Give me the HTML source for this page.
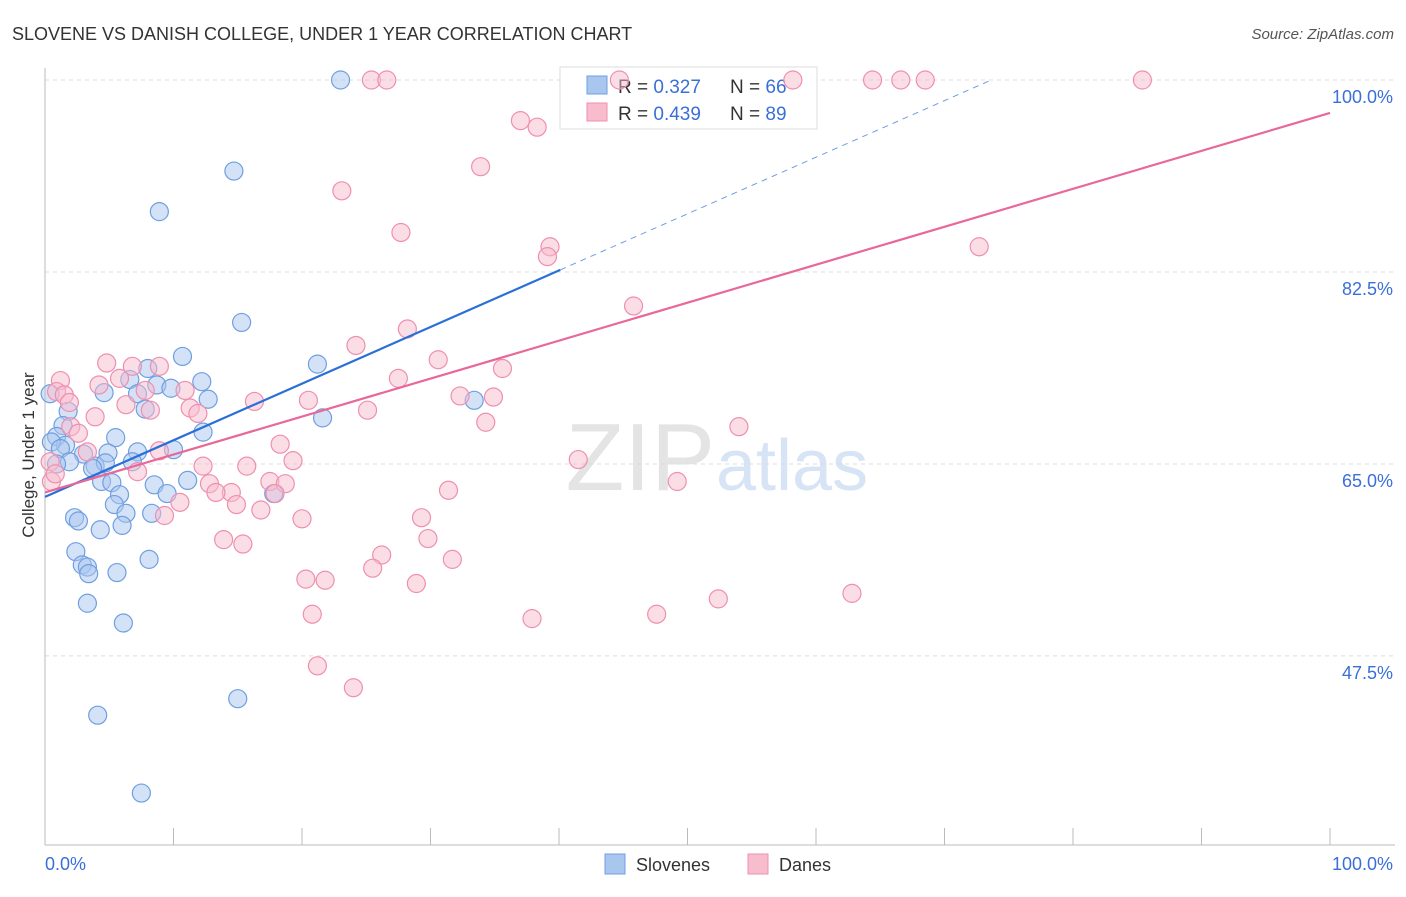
<!DOCTYPE html>
<html><head><meta charset="utf-8"><style>
body{margin:0;background:#fff;font-family:"Liberation Sans",sans-serif;}
svg text{font-family:"Liberation Sans",sans-serif;}
</style></head><body>
<svg id="chart" width="1406" height="892">
<text x="12" y="40" font-size="18" fill="#333">SLOVENE VS DANISH COLLEGE, UNDER 1 YEAR CORRELATION CHART</text>
<text x="1394" y="39" font-size="15" fill="#555" font-style="italic" text-anchor="end">Source: ZipAtlas.com</text>
<text x="715" y="490" font-size="96" fill="#e4e4e4" text-anchor="end" font-family="Liberation Serif">ZIP</text>
<text x="716" y="490" font-size="72" fill="#d6e4f5">atlas</text>
<text transform="translate(34,455) rotate(-90)" font-size="17" fill="#333" text-anchor="middle">College, Under 1 year</text>
<g id="grid"></g>
<g>
<rect x="560" y="67" width="257" height="62" fill="#fff" stroke="#ddd"/>
<rect x="587" y="76" width="20" height="18" fill="#a9c6ef" stroke="#6f9fe0"/>
<rect x="587" y="103" width="20" height="18" fill="#f7bccd" stroke="#ef8fb0"/>
<text x="618" y="93" font-size="19" fill="#333">R = <tspan fill="#3a6fd8">0.327</tspan></text>
<text x="730" y="93" font-size="19" fill="#333">N = <tspan fill="#3a6fd8">66</tspan></text>
<text x="618" y="120" font-size="19" fill="#333">R = <tspan fill="#3a6fd8">0.439</tspan></text>
<text x="730" y="120" font-size="19" fill="#333">N = <tspan fill="#3a6fd8">89</tspan></text>
</g>
<g id="marks"></g><g id="lines"></g>
<g>
<rect x="605" y="854" width="20" height="20" fill="#a9c6ef" stroke="#6f9fe0"/>
<text x="636" y="871" font-size="18" fill="#333">Slovenes</text>
<rect x="748" y="854" width="20" height="20" fill="#f7bccd" stroke="#ef8fb0"/>
<text x="779" y="871" font-size="18" fill="#333">Danes</text>
</g>
</svg>
<script>
const blueX=[23.0,14.7,8.9,15.3,10.7,21.2,8.0,12.2,8.7,6.6,4.6,9.8,7.2,12.7,7.8,1.8,0.4,33.4,21.6,12.3,5.5,1.4,0.9,1.6,0.5,1.2,10.0,7.2,4.9,3.0,1.9,0.9,3.9,4.7,6.8,3.7,4.4,5.2,11.1,8.5,5.8,9.5,5.4,6.3,8.3,2.3,2.6,6.0,4.3,2.4,8.1,2.9,3.3,3.4,5.6,3.3,6.1,15.0,4.1,7.5,17.8];
const blueY=[100,91.7,88.0,77.9,74.8,74.1,73.7,72.5,72.2,72.7,71.5,71.9,71.4,70.9,70.0,69.8,71.4,70.8,69.2,67.9,67.4,68.5,67.5,66.7,67.0,66.4,66.3,66.1,66.0,65.9,65.2,65.0,64.8,65.1,65.2,64.6,63.4,63.3,63.5,63.1,62.2,62.3,61.3,60.5,60.5,60.1,59.8,59.4,59.0,57.0,56.3,55.8,55.6,55.0,55.1,52.3,50.5,43.6,42.1,35.0,62.3];
const pinkX=[25.4,26.6,44.7,58.2,64.4,66.6,68.5,85.4,37.0,38.3,33.9,23.1,27.7,39.3,39.1,72.7,45.8,28.2,24.2,30.6,4.8,6.8,8.9,35.6,1.2,5.8,27.5,4.2,7.8,10.9,0.9,1.5,16.3,20.5,1.9,32.3,34.9,6.3,8.2,11.3,25.1,11.9,3.9,34.3,54.0,2.0,2.6,8.9,3.3,18.3,0.4,19.3,12.3,15.7,7.2,41.5,17.5,12.8,18.7,49.2,31.4,14.5,13.3,17.9,14.9,10.5,16.8,9.3,20.0,29.3,29.8,13.9,15.4,26.2,31.7,25.5,20.3,21.8,28.9,20.8,37.9,47.6,52.4,62.8,21.2,24.0,0.5,0.8];
const pinkY=[100,100,100,100,100,100,100,100,96.3,95.7,92.1,89.9,86.1,84.8,83.9,84.8,79.4,77.3,75.8,74.5,74.2,73.9,73.9,73.7,72.6,72.8,72.8,72.2,71.7,71.7,71.6,71.3,70.7,70.8,70.6,71.2,71.1,70.4,69.9,70.1,69.9,69.6,69.3,68.8,68.4,68.4,67.8,66.2,66.1,66.8,65.2,65.3,64.8,64.8,64.3,65.4,63.4,63.2,63.2,63.4,62.6,62.4,62.4,62.3,61.3,61.5,60.8,60.3,60.0,60.1,58.2,58.1,57.7,56.7,56.3,55.5,54.5,54.4,54.1,51.3,50.9,51.3,52.7,53.2,46.6,44.6,63.4,64.1];
const yTicks=[100,82.5,65,47.5];
const yTickLabels=["100.0%","82.5%","65.0%","47.5%"];
const blueTrend=[62.0,0.516];
const pinkTrend=[62.4,0.346];
const NS='http://www.w3.org/2000/svg';
const sx=v=>45+v*12.85, sy=v=>80+(100-v)*10.97;
function mk(t,a,p){const e=document.createElementNS(NS,t);for(const k in a)e.setAttribute(k,a[k]);p.appendChild(e);return e;}
const grid=document.getElementById('grid'),marks=document.getElementById('marks'),lines=document.getElementById('lines');
yTicks.forEach((t,i)=>{
 const l=mk('line',{x1:45,x2:1395,y1:sy(t),y2:sy(t),stroke:'#ddd','stroke-dasharray':'4,4'},grid);
 
 
 const tx=mk('text',{x:1393,y:sy(t)+23,'font-size':18,fill:'#3a6fd8','text-anchor':'end'},grid);tx.textContent=yTickLabels[i];
 
 
});
mk('line',{x1:45,x2:45,y1:68,y2:845,stroke:'#bbb'},grid);
mk('line',{x1:45,x2:1395,y1:845,y2:845,stroke:'#bbb'},grid);
for(let i=0;i<=10;i++){const t=mk('line',{x1:sx(i*10),x2:sx(i*10),y1:828,y2:845,stroke:'#bbb'},grid);
 
 }
[['0.0%',45,'start'],['100.0%',1393,'end']].forEach(a=>{const t=mk('text',{x:a[1],y:870,'font-size':18,fill:'#3a6fd8','text-anchor':a[2]},grid);t.textContent=a[0];
 
 });
function pts(X,Y,fill,stroke,name){X.forEach((x,i)=>{const c=mk('circle',{cx:sx(x),cy:sy(Y[i]),r:9,fill:fill,'fill-opacity':0.5,stroke:stroke,'stroke-width':1.2},marks);
 
 });}
pts(blueX,blueY,'#a9c6ef','#6f9fe0','slovene-point');
pts(pinkX,pinkY,'#f7bccd','#ef8fb0','danish-point');
const bx2=40.1,bx3=(100-blueTrend[0])/blueTrend[1];
let l1=mk('line',{x1:sx(0),y1:sy(blueTrend[0]),x2:sx(bx2),y2:sy(blueTrend[0]+blueTrend[1]*bx2),stroke:'#2a6fd6','stroke-width':2.2},lines);


let l2=mk('line',{x1:sx(bx2),y1:sy(blueTrend[0]+blueTrend[1]*bx2),x2:sx(bx3),y2:sy(100),stroke:'#6f9fe0','stroke-width':1,'stroke-dasharray':'6,5'},lines);


let l3=mk('line',{x1:sx(0),y1:sy(pinkTrend[0]),x2:sx(100),y2:sy(pinkTrend[0]+pinkTrend[1]*100),stroke:'#e8689a','stroke-width':2.2},lines);


</script>
</body></html>
